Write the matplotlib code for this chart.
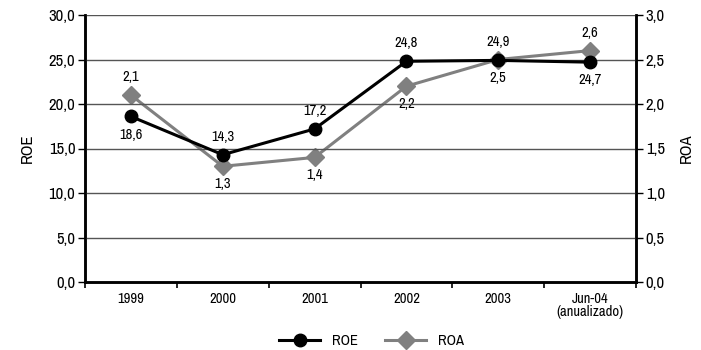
import matplotlib
matplotlib.use("Agg")
import matplotlib.pyplot as plt
from matplotlib.ticker import FixedLocator, FuncFormatter
from matplotlib.lines import Line2D
from matplotlib import font_manager

names = sorted({f.name for f in font_manager.fontManager.ttflist if 'ondens' in f.name or 'arrow' in f.name})
fam = names[0] if names else 'Roboto'
plt.rcParams['font.family'] = [fam, 'DejaVu Sans']
plt.rcParams['font.stretch'] = 'condensed'

categories = ["1999", "2000", "2001", "2002", "2003", "Jun-04\n(anualizado)"]
roe = [18.6, 14.3, 17.2, 24.8, 24.9, 24.7]
roa = [2.1, 1.3, 1.4, 2.2, 2.5, 2.6]
roe_label_side = [-1, 1, 1, 1, 1, -1]
roa_label_side = [1, -1, -1, -1, -1, 1]

fig = plt.figure(figsize=(7.01, 3.5), dpi=100)
ax = fig.add_axes([85/701, 68/350, 551/701, 267/350])
ax2 = ax.twinx()

x = list(range(len(categories)))
fs = 10.5

ax.set_xlim(-0.5, len(categories) - 0.5)
ax.set_ylim(0, 30)
ax2.set_ylim(0, 3)

for v in range(0, 31, 5):
    ax.axhline(v, color='#555555', lw=1.0, zorder=1)

ax.plot(x, roe, color='black', lw=2.2, marker='o', ms=9, zorder=4)
ax2.plot(x, roa, color='#808080', lw=2.2, marker='D', ms=9.5, zorder=3)

ax.set_zorder(ax2.get_zorder() + 1)
ax.patch.set_visible(False)

for xi, v, s in zip(x, roe, roe_label_side):
    ax.annotate(f"{v:.1f}".replace('.', ','), (xi, v), xytext=(0, 13 * s),
                textcoords='offset points', ha='center', va='center', fontsize=fs)
for xi, v, s in zip(x, roa, roa_label_side):
    ax2.annotate(f"{v:.1f}".replace('.', ','), (xi, v), xytext=(0, 13 * s),
                 textcoords='offset points', ha='center', va='center', fontsize=fs)

fmt = FuncFormatter(lambda v, p: f"{v:.1f}".replace('.', ','))
ax.yaxis.set_major_locator(FixedLocator([0, 5, 10, 15, 20, 25, 30]))
ax.yaxis.set_major_formatter(fmt)
ax2.yaxis.set_major_locator(FixedLocator([0, 0.5, 1, 1.5, 2, 2.5, 3]))
ax2.yaxis.set_major_formatter(fmt)

ax.set_xticks(x)
ax.set_xticklabels(categories, fontsize=fs, linespacing=0.95)
ax.set_xticks([i - 0.5 for i in range(len(categories) + 1)], minor=True)
ax.tick_params(axis='x', which='major', length=0, pad=7)
ax.tick_params(axis='x', which='minor', length=4, direction='out', width=1.2)
ax.tick_params(axis='y', length=5, width=1, labelsize=12, pad=2)
ax2.tick_params(axis='y', length=5, width=1, labelsize=12, pad=2)

for a in (ax, ax2):
    a.spines['top'].set_visible(False)
    for sp in ('left', 'right', 'bottom'):
        a.spines[sp].set_linewidth(1.8)
        a.spines[sp].set_color('black')

ax.set_ylabel("ROE", fontsize=12, labelpad=10)
ax2.set_ylabel("ROA", fontsize=12, labelpad=10)

handles = [Line2D([], [], color='black', lw=2.2, marker='o', ms=9),
           Line2D([], [], color='#808080', lw=2.2, marker='D', ms=9.5)]
fig.legend(handles, ["ROE", "ROA"], loc='center', bbox_to_anchor=(0.53, 9/350),
           ncol=2, frameon=False, fontsize=fs, handlelength=2.8, columnspacing=1.9)

fig.savefig("out.png", dpi=100)
